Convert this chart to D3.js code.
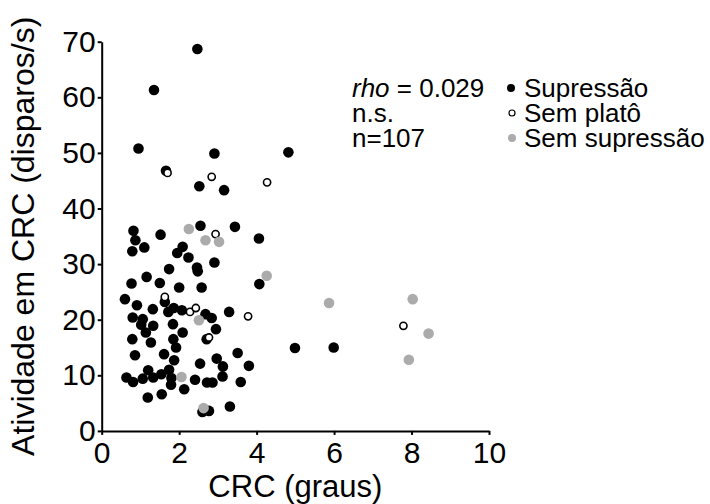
<!DOCTYPE html>
<html><head><meta charset="utf-8">
<script src="https://cdn.jsdelivr.net/npm/d3@7"></script>
<style>
body{margin:0;background:#fff;}
svg{display:block;font-family:"Liberation Sans",Arial,sans-serif;}
</style></head>
<body><div id="chart"></div>
<script>
const xTicks=[0,2,4,6,8,10];
const yTicks=[0,10,20,30,40,50,60,70];
const seriesNames=["Supressão","Sem platô","Sem supressão"];
const statsText=["rho = 0.029","n.s.","n=107"];
// Supressão (filled black)
const supX=[2.47,1.35,0.95,2.91,4.82,1.66,2.52,3.16,0.82,0.87,0.79,1.10,1.52,2.55,3.44,4.06,1.95,2.09,2.24,1.74,2.46,2.48,2.91,4.07,0.77,1.16,1.50,2.00,2.58,0.60,0.91,1.32,1.63,1.72,1.86,2.07,2.68,2.84,3.29,0.80,1.06,1.02,1.33,1.14,1.84,2.09,2.95,0.79,1.27,1.85,1.92,2.71,0.86,1.61,1.87,2.54,2.97,3.13,3.51,3.80,0.64,0.81,1.06,1.20,1.33,1.54,1.74,1.79,1.80,2.13,2.41,2.72,2.86,3.12,3.59,1.19,1.55,2.60,2.77,3.31,4.99,5.99];
const supY=[68.7,61.3,50.8,49.9,50.1,46.8,44.0,43.3,36.0,34.3,32.3,33.0,35.3,36.9,36.7,34.6,32.0,33.1,31.2,29.1,29.4,28.7,30.3,26.4,26.5,27.7,26.6,25.8,25.8,23.7,22.6,21.9,23.2,21.4,22.1,21.7,21.0,20.3,21.4,20.4,20.1,19.1,18.9,17.7,19.2,17.7,18.3,16.5,15.9,16.5,15.0,16.5,13.6,13.8,12.7,12.1,13.0,11.6,14.0,11.7,9.6,8.8,9.4,10.9,9.6,10.2,11.0,8.3,9.5,7.5,9.2,8.7,8.7,9.8,8.8,6.0,6.6,3.4,3.6,4.4,14.9,15.0];
// Sem platô (open)
const platX=[1.70,2.84,4.27,2.94,1.63,2.28,2.43,3.78,2.77,7.79];
const platY=[46.4,45.7,44.7,35.4,24.1,21.4,22.1,20.6,16.8,18.9];
// Sem supressão (gray)
const semX=[2.25,2.68,3.03,4.26,2.51,2.06,2.63,5.87,8.03,8.44,7.93];
const semY=[36.3,34.3,34.0,27.9,19.9,9.7,4.1,23.0,23.7,17.5,12.8];

const W=710,H=504;
const svg=d3.select("#chart").append("svg").attr("width",W).attr("height",H);
const x=d3.scaleLinear().domain([0,10]).range([101.7,489]);
const y=d3.scaleLinear().domain([0,70]).range([430.9,41.7]);

const xa=svg.append("g").attr("transform",`translate(0,${y(0)})`)
  .call(d3.axisBottom(x).tickValues(xTicks).tickSize(4).tickSizeOuter(0).tickPadding(7));
const ya=svg.append("g").attr("transform",`translate(${x(0)},0)`)
  .call(d3.axisLeft(y).tickValues(yTicks).tickSize(4).tickSizeOuter(0).tickPadding(2));
[xa,ya].forEach(g=>{
  g.select(".domain").attr("stroke","#000").attr("stroke-width",2);
  g.selectAll(".tick line").attr("stroke","#000").attr("stroke-width",2);
  g.selectAll(".tick text").attr("fill","#000").style("font-size","30px").style("font-family","'Liberation Sans',Arial,sans-serif");
});

svg.append("text").attr("x",(x(0)+x(10))/2).attr("y",497).attr("text-anchor","middle")
  .style("font-size","31px").text("CRC (graus)");
svg.append("text").attr("transform",`translate(34,${(y(0)+y(70))/2}) rotate(-90)`).attr("text-anchor","middle")
  .style("font-size","32px").text("Atividade em CRC (disparos/s)");

const sup=supX.map((v,i)=>({x:v,y:supY[i]}));
const plat=platX.map((v,i)=>({x:v,y:platY[i]}));
const sem=semX.map((v,i)=>({x:v,y:semY[i]}));

svg.append("g").selectAll("circle").data(sup).join("circle")
  .attr("cx",d=>x(d.x)).attr("cy",d=>y(d.y)).attr("r",5.3).attr("fill","#000");
svg.append("g").selectAll("circle").data(plat).join("circle")
  .attr("cx",d=>x(d.x)).attr("cy",d=>y(d.y)).attr("r",3.6).attr("fill","#fff").attr("stroke","#000").attr("stroke-width",1.6);
svg.append("g").selectAll("circle").data(sem).join("circle")
  .attr("cx",d=>x(d.x)).attr("cy",d=>y(d.y)).attr("r",5.3).attr("fill","#ababab");

// stats text
const st=svg.append("g").style("font-size","26px").attr("fill","#000");
const t0=st.append("text").attr("x",352).attr("y",97);
t0.append("tspan").style("font-style","italic").text(statsText[0].split(" ")[0]);
t0.append("tspan").text(statsText[0].slice(3));
st.append("text").attr("x",352).attr("y",122).text(statsText[1]);
st.append("text").attr("x",352).attr("y",147).text(statsText[2]);

// legend
const lg=svg.append("g").style("font-size","26px");
const ly=[97,122,147];
lg.append("circle").attr("cx",511).attr("cy",ly[0]-9).attr("r",4).attr("fill","#000");
lg.append("circle").attr("cx",512).attr("cy",ly[1]-9).attr("r",3).attr("fill","#fff").attr("stroke","#000").attr("stroke-width",1.2);
lg.append("circle").attr("cx",512).attr("cy",ly[2]-9).attr("r",4).attr("fill","#ababab");
seriesNames.forEach((n,i)=>lg.append("text").attr("x",524).attr("y",ly[i]).text(n));
</script></body></html>
